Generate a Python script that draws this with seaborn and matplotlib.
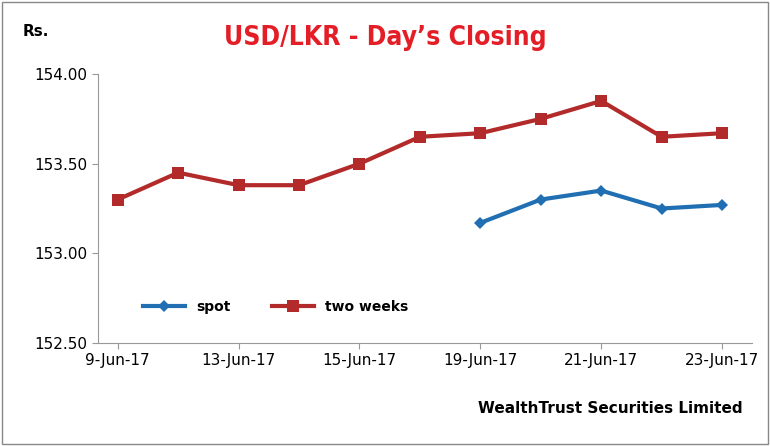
import matplotlib
matplotlib.use("Agg")
import matplotlib.pyplot as plt
import seaborn as sns
import pandas as pd
import numpy as np

dates = ["9-Jun-17","12-Jun-17","13-Jun-17","14-Jun-17","15-Jun-17","16-Jun-17",
         "19-Jun-17","20-Jun-17","21-Jun-17","22-Jun-17","23-Jun-17"]
two_weeks = [153.30,153.45,153.38,153.38,153.50,153.65,153.67,153.75,153.85,153.65,153.67]
spot = [np.nan]*6 + [153.17,153.30,153.35,153.25,153.27]
yticks = [152.50,153.00,153.50,154.00]

df = pd.DataFrame({"x": range(len(dates)), "spot": spot, "two weeks": two_weeks})

fig = plt.figure(figsize=(7.70,4.46), dpi=100)
ax = fig.add_axes([0.127, 0.231, 0.85, 0.603])
sns.lineplot(data=df, x="x", y="spot", ax=ax, color="#1f6fb2", lw=3, marker="D",
             markersize=6, markeredgewidth=0, label="spot")
sns.lineplot(data=df, x="x", y="two weeks", ax=ax, color="#b22a2a", lw=3, marker="s",
             markersize=8, markeredgewidth=0, label="two weeks")
ax.set_xlim(-0.33, 10.5)
ax.set_ylim(152.5, 154.0)
ax.set_yticks(yticks)
ax.set_yticklabels([f"{v:.2f}" for v in yticks], fontsize=11)
ax.set_xticks(range(0, len(dates), 2))
ax.set_xticklabels(dates[::2], fontsize=11)
ax.set_xlabel(""); ax.set_ylabel("")
for s in ["top","right"]:
    ax.spines[s].set_visible(False)
for s in ["left","bottom"]:
    ax.spines[s].set_color("#999999")
ax.tick_params(length=4, color="#999999")
ax.legend(loc="lower left", bbox_to_anchor=(0.05, 0.06), ncol=2, frameon=False,
          prop={"weight":"bold","size":10}, handlelength=3, columnspacing=3)
fig.text(0.5, 0.915, "USD/LKR - Day\u2019s Closing", ha="center", va="center",
         color="#e41e26", fontsize=19, fontweight="bold", family="DejaVu Sans",
         fontstretch="condensed")
fig.text(0.03, 0.92, "Rs.", fontsize=11, fontweight="bold")
fig.text(0.965, 0.075, "WealthTrust Securities Limited", ha="right", fontsize=11,
         fontweight="bold")
fig.patches.append(plt.Rectangle((0.003,0.005),0.994,0.99, transform=fig.transFigure,
                                 fill=False, edgecolor="#888888", lw=1))
fig.savefig("out.png", dpi=100)
